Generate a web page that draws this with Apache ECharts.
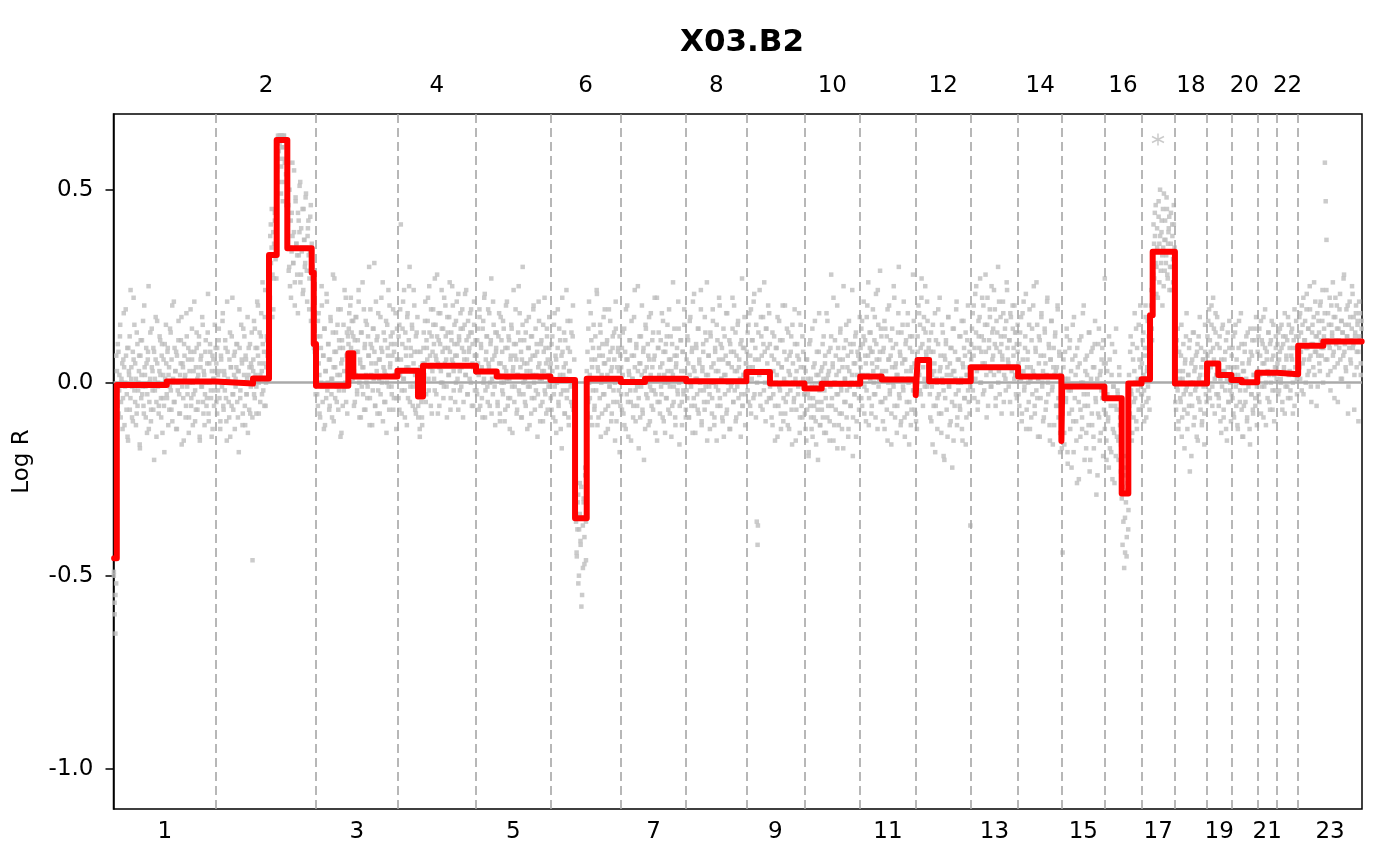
<!DOCTYPE html>
<html><head><meta charset="utf-8">
<script src="https://cdn.jsdelivr.net/npm/echarts@6/dist/echarts.min.js"></script>
<style>html,body{margin:0;padding:0;background:#fff}#c{width:1400px;height:866px}</style>
</head><body><div id="c"></div>
<script>
// ---------- chromosomes (hg19, Mb) ----------
const chromNames = ['1','2','3','4','5','6','7','8','9','10','11','12','13','14','15','16','17','18','19','20','21','22','23'];
const chromLengthsMb = [249.25,243.2,198.02,191.15,180.92,171.12,159.14,146.36,141.21,135.53,135.01,133.85,115.17,107.35,102.53,90.35,81.2,78.08,59.13,63.03,48.13,51.3,155.27];
const yTickValues = [-1.0,-0.5,0.0,0.5];
const yTickLabels = ['-1.0','-0.5','0.0','0.5'];

// ---------- probe log R values (x100), genomic order per chromosome, probe set A ----------
const chr1LogR = [-50,-57,-65,-52,3,-6,8,-2,12,-9,1,5,-4,18,-11,0,7,-3,-14,9,2,-7,24,4,-1,-10,6,15,-5,1,-8,10,-2,3,-16,7,-4,11,-1,-6,20,2,-9,5,-3,8,-12,0,13,-7,4,-2,9,-20,1,6,-5,16,-1,-8,3,11,-4,7,-13,2,-6,10,0,5,-4,9,2,-7,14,-2,6,-10,1,21,-5,3,8,-12,0,11,-3,-8,5,17,-1,4,-15,7,2,-6,12,-3,9,-9,0,19,-4,6,-11,3,8,-2,-7,13,1,-5,10,-14,4,7,-1,15,-8,2,-3,11,-6,5,23,-10,0,8,-4,3,-12,6,1,-2,9];
const chr2LogR = [5,-8,2,11,-4,-12,7,0,16,-6,3,-2,9,-10,21,1,-5,6,-14,4,12,-3,-7,2,8,-1,4,10,-9,3,19,-4,0,6,-11,14,2,-6,7,-3,1,-13,9,4,-8,5,13,-46,6,-3,14,2,-8,9,20,0,5,-5,12,3,26,-2,8,17,-6,4,11,1,15,24,38,31,45,28,19,36,42,33,27,55,63,60,64,58,49,64,61,52,64,57,63,46,60,41,29,50,35,22,44,38,31,55,26,47,36,33,18,42,39,52,28,34,45,24,37,30,48,35,21,40,33,27,43,16,36,30,25,12,8,-3];
const chr3LogR = [4,12,-6,18,2,-9,9,25,-1,7,-12,14,3,-4,21,0,10,-7,6,16,-3,1,28,-10,8,4,13,-5,2,19,-2,9,-14,5,11,-6,15,3,-1,22,7,-8,12,14,5,20,9,16,1,12,3,-5,17,8,-2,11,24,0,6,-9,13,4,-3,19,9,-7,2,15,-1,7,30,-4,10,5,-11,14,1,8,-6,21,3,12,-2,6,-8,17,9,0,26,4,-5,11,2,-13,15,7,-1,20,5,10,-3,13,-7,8,2,18,-4,6];
const chr4LogR = [6,-4,15,2,41,-8,10,21,1,-2,13,7,-11,18,4,25,-5,9,3,14,-1,24,8,-7,12,0,17,-6,3,-12,8,-3,-9,5,9,2,16,-5,11,6,22,-2,13,4,19,-8,8,15,1,27,7,-3,12,5,18,-6,10,3,24,0,14,-1,9,20,6,-9,13,2,17,8,-4,11,25,5,-2,15,7,0,21,10,-7,12,3,18,-1,9,14,-5,6,23,2,11,-3,16,8,1,13,19,-6,10,4,15,-2,7];
const chr5LogR = [7,-3,14,2,19,-6,10,4,-9,16,1,23,-2,8,12,-5,5,18,0,11,-8,6,21,3,-1,13,9,2,-6,12,5,-10,17,0,8,-3,14,4,-7,20,1,9,-4,11,-12,6,15,-1,3,24,-5,7,10,-8,2,13,-2,18,4,-9,6,30,-3,11,1,-6,16,5,-1,9,-11,3,12,-4,7,19,0,-7,14,2,8,-3,21,5,-10,10,1,-5,15,3,-2,9,-8,12,6,-1,17,4];
const chr6LogR = [5,-7,12,1,-3,18,-10,6,0,9,-5,14,2,-12,7,22,-2,4,-8,11,1,-4,16,-9,3,8,-1,13,-6,20,0,-14,-28,-36,-45,-31,-52,-38,-26,-42,-58,-35,-48,-30,-40,-22,-46,-33,8,-5,21,2,-9,11,4,-2,15,-7,6,1,24,-11,3,9,-4,13,0,-8,7,17,-3,5,-13,10,2,-6,19,-1,8,-10,4,12,-2,6,-15,14,1,-5,9,3,-18,7];
const chr7LogR = [-3,9,2,-8,14,0,-12,6,20,-5,3,11,-2,-15,7,1,-6,17,4,-10,9,-1,25,-4,5,-9,12,2,-7,8,-20,3,15,-3,0,10,-11,6,-1,18,-6,4,13,-2,7,-13,1,22,-5,9,2,-8,11,-3,5,16,-10,0,8,-4,12,3,-7,19,-1,6,-14,10,2,-5,14,-9,4,7,-2,21,0,-6,11,3,-11,8,-3,15,1,-7];
const chr8LogR = [6,-4,11,-9,2,17,-1,8,-13,4,23,-6,1,9,-3,14,-8,5,0,19,-11,3,10,-2,-7,13,2,26,-5,7,-1,-12,12,4,-4,16,0,-9,8,3,-15,11,-2,6,20,-6,1,9,-10,14,2,-3,7,-8,18,0,5,-12,10,-1,4,22,-5,8,-2,13,-9,3,15,-4,6,1,-14,11,-6,9,2,17,-3,5];
const chr9LogR = [8,-2,15,4,-6,19,1,11,-4,23,6,-9,-36,-42,13,2,-3,17,7,-7,10,26,0,14,-5,9,3,18,-1,-4,7,-11,3,12,-6,0,9,-14,5,16,-2,-8,4,11,-10,1,20,-5,6,-3,13,-12,2,8,-7,15,0,-4,10,-15,3,7,-1,18,-9,4,-6,12,1,-3];
const chr10LogR = [-8,3,-15,6,-3,-19,10,-6,1,-12,14,-4,-9,5,-1,-16,8,-7,2,18,-11,0,-5,4,-9,12,-2,7,-13,1,16,-6,3,-10,9,28,-4,5,-15,0,11,-7,2,20,-3,-11,6,13,-1,-8,4,-17,9,1,-5,15,-2,7,-12,3,10,-6,0,24,-9,5,-3,12,-14,2,8,-1,-7,6];
const chr11LogR = [9,-4,16,2,12,-8,11,5,-2,20,7,-11,13,1,8,-6,8,3,-3,17,-9,10,4,24,-1,6,29,14,2,-5,8,1,-12,14,3,-7,19,0,6,-3,11,-16,4,9,-1,22,-9,5,2,-6,13,30,-4,7,-10,1,15,-2,6,-14,10,3,-8,18,0,-5,12,-11,4,8,-2,16,-7,1];
const chr12LogR = [-10,-3,12,3,18,-2,9,22,6,-6,14,1,25,8,-1,16,4,11,-3,8,-10,2,15,-6,5,-18,11,0,-4,19,-8,3,7,-13,1,13,-2,-20,6,10,-7,4,17,-1,-11,9,2,-5,14,-15,3,8,-3,21,-9,0,6,-6,12,1,-12,5,16,-4,7,-16,2,11,-2,4,-8,-37];
const chr13LogR = [6,14,-2,20,9,1,25,4,-5,12,17,0,8,22,-3,11,5,28,2,15,-6,9,19,3,-1,13,7,24,10,-4,16,4,0,21,8,12,-8,6,18,2,14,-2,26,9,5,11,-5,17,3,20,7,1,13,-3,10,15];
const chr14LogR = [5,-6,13,1,-10,18,3,-2,9,23,-7,6,0,15,-12,4,11,-3,20,2,-8,8,26,-4,1,12,-14,7,17,-1,3,-9,14,5,-5,21,0,10,-11,6,16,-2,-16,9,2,13,-6,4,19,-9,7,-13,1,-17];
const chr15LogR = [-44,4,-13,8,-5,14,-18,1,-8,11,-2,-22,6,-10,17,-4,2,-15,9,-1,-25,5,-7,12,-12,0,20,-6,3,-17,7,-3,-11,13,-20,1,-8,9,-14,4,16,-5,-1,-24,10,-9,2,-13,6,-4,11,-7];
const chr16LogR = [27,-8,-15,3,-10,-22,6,-4,-18,10,-12,-1,-26,-6,14,-14,-3,-20,2,-9,-16,-30,-42,-24,-48,-35,-19,-45,-28,-38,2,-8,12,-3,-13,6,-5,18,0,-10,9,-2,15,-7,4,-1];
const chr17LogR = [5,-6,13,-2,9,20,-9,3,16,-4,8,1,15,24,11,32,41,27,38,46,30,35,22,43,36,50,29,39,33,45,25,37,42,31,48,28,36,40,24,34,44,30,38,26,41,35];
const chr18LogR = [4,-7,11,-2,-12,8,1,-5,15,-9,3,-3,-17,6,12,-1,-8,2,9,-23,0,5,-6,13,-11,3,-2,7,-14,10,-4,1,17,-7,4,-10,6,-1,-16,8,2,-5];
const chr19LogR = [12,3,19,-4,8,15,-1,22,6,-8,13,2,17,-3,-6,9,1,-13,14,3,-9,6,-2,11,-15,4,-5,16,0,-10];
const chr20LogR = [7,-4,12,-9,2,15,-6,4,-12,9,0,-2,18,-7,5,-14,3,10,-5,1,-10,13,-1,6,-16,8,-3,11,-8,2,14,-6,0,-11];
const chr21LogR = [8,-3,14,2,-8,11,5,17,-1,9,-11,6,3,13,-5,10,0,16,-7,7,2,-2,12,4];
const chr22LogR = [5,13,-2,8,1,15,-5,10,3,-8,12,6,-1,17,2,9,-4,7,14,0,11,-6,4,16,1,8];
const chr23LogR = [12,4,18,8,-2,15,22,6,11,0,19,9,14,3,25,7,-5,13,10,17,2,21,8,12,-1,16,5,20,11,7,24,9,14,57,47,37,6,18,10,22,3,15,12,26,8,-4,17,11,20,5,14,9,23,1,16,13,7,28,10,4,19,12,-8,15,21,6,11,25,9,17,2,13,20,8,16,-10,12,18,5,14];

// ---------- probe set B (x100) ----------
const chr1LogRb = [-49,-60,-55,7,-3,10,-8,2,15,-5,0,-12,6,4,-1,19,-7,9,-15,3,12,-4,1,-9,8,22,-2,5,-11,13,-6,0,7,-17,11,2,-3,16,-8,4,-1,9,-13,6,25,-5,1,-10,14,3,-7,8,-2,17,-14,5,0,-6,12,2,-9,10,-4,6,-18,1,15,-3,8,-11,4,-1,13,-7,20,0,-5,9,3,-12,7,-2,16,-8,2,11,-16,5,-4,10,1,-9,18,-1,6,-13,3,8,-6,14,0,-3,21,-10,4,9,-7,2,12,-15,6,-1,17,-5,3,-11,8,0,-4,13,-8,5,10,-2,-14,7,1,-6,15,3];
const chr2LogRb = [-5,9,-2,14,3,-10,6,-1,18,-7,2,11,-4,-15,8,0,-9,13,4,-6,22,-3,7,-12,1,10,-5,3,-18,9,-2,15,5,-8,0,12,-11,6,-3,17,2,-7,10,-1,4,-9,3,16,-4,9,-1,21,7,-8,13,2,18,-3,10,5,-6,24,0,12,7,19,30,22,41,35,17,39,27,44,32,36,59,64,52,62,64,56,61,47,64,58,63,54,62,38,46,30,25,42,34,57,31,39,20,48,36,28,44,33,51,26,40,35,23,45,37,31,49,29,38,42,19,34,46,32,27,20,9,14,2];
const chr3LogRb = [9,-3,16,5,-8,12,0,20,-5,7,14,-11,3,23,-2,10,6,-6,17,1,-9,13,4,27,-4,8,-1,15,-7,11,2,19,-13,6,9,-2,24,0,-5,13,3,10,18,4,22,13,7,16,-6,11,2,17,-3,8,21,-9,5,13,-1,26,4,-7,10,16,0,-4,12,7,-11,19,2,9,-2,14,31,-6,5,11,-8,18,1,6,-3,22,8,-10,13,3,-5,16,0,9,24,-7,4,12,-1,7,19,-4,10,2,-12,14];
const chr4LogRb = [3,12,-7,19,6,-2,14,1,24,-9,9,4,17,-4,11,30,-1,7,15,-6,5,20,2,-8,13,8,-9,1,-14,4,-5,-11,2,13,5,21,-3,9,16,1,25,7,-6,12,3,19,10,-2,15,6,28,-8,11,4,18,0,14,8,-4,22,5,12,-1,17,9,2,26,-7,13,6,20,3,10,-5,16,7,1,23,11,-2,14,4,19,-9,8,15,2,24,6,-3,12,9,18,0,13,5,-6,21,7,11];
const chr5LogRb = [-2,11,5,-7,17,3,9,-4,14,0,22,-9,6,12,-1,19,4,-6,10,27,1,-3,15,7,-11,8,13,-5,2,18,-8,5,11,-2,16,0,-10,9,3,21,-6,12,1,-4,7,14,-13,4,10,-1,19,6,-7,2,25,-3,11,8,-9,15,0,5,-5,13,3,-12,9,17,-1,6,-8,12,2,20,-4,7,-2,10,-14,4,16,1,-6,11,3,-10,8,22,-3,5,14,-7,2,9,-1];
const chr6LogRb = [-4,10,3,-9,15,-1,7,-13,4,19,-6,1,11,-3,-17,8,2,13,-8,5,24,-2,9,-11,3,16,-5,0,12,-7,6,-32,-25,-44,-38,-29,-50,-34,-41,-27,-55,-37,-31,-47,-24,-36,3,-8,14,0,-4,18,6,-11,9,1,-6,12,-2,23,4,-9,7,15,-14,2,10,-3,5,19,-7,1,11,-12,6,-1,16,3,-8,9,-5,13,0,21,-10,4,8,-2,12,-6];
const chr7LogRb = [4,-7,13,0,-11,8,19,-3,6,-14,2,11,-5,16,1,-9,7,24,-2,10,-6,3,-17,12,5,-1,20,-8,9,0,-12,14,4,-4,7,17,-10,2,-2,11,-7,6,22,-3,1,-15,9,13,-5,4,-1,18,-9,8,2,-13,10,-4,15,0,6,-8,12,3,-6,26,-1,7,-11,5,9,-3,14,-16,1,11,-5,8,-2,19,3,-9];
const chr8LogRb = [-2,12,5,-9,16,0,-6,9,21,-4,3,-13,10,1,-7,14,6,-2,24,-10,4,8,-5,17,-1,11,-15,2,7,-3,13,0,-8,19,5,-11,9,-1,15,-6,3,22,-4,10,1,-9,6,-14,12,2,18,-7,5,-2,11,-12,8,0,14,-5,20,3,-10,7,-1,16,4,-8,10,-3,27,-6,2,9,-11,5];
const chr9LogRb = [2,13,-5,18,7,-8,11,4,21,-3,9,15,0,-37,6,24,-6,12,3,17,-2,8,-10,14,5,20,-4,10,1,-9,13,-3,6,-15,9,2,17,-6,-1,11,-12,4,20,-4,8,-8,0,14,-11,3,7,-2,12,-16,5,-5,19,1,-7,10,-3,6,-13,15,0,-9,8,4];
const chr10LogRb = [-3,-12,6,-7,1,-18,-4,11,-9,-1,-14,4,-6,16,-10,2,-5,-20,8,-2,-11,3,-7,10,1,-13,5,-4,18,-9,2,8,-15,-1,12,-6,4,22,-11,0,7,-3,-17,9,3,-8,14,-2,-12,6,25,-5,1,11,-9,4,-14,16,-1,-6,8,2,-19,10,-3,5,13,-10,0,7,-4,17];
const chr11LogRb = [4,14,-6,10,21,-1,7,-10,17,2,26,-4,9,13,-8,5,19,0,11,-3,23,6,-12,15,1,8,-5,12,3,-10,9,16,-4,1,12,-15,6,20,-2,7,-8,14,0,25,-6,4,10,-13,2,18,-3,8,-11,13,5,-1,21,-9,6,11,-5,15,1,-16,9,3,-7,12,28,-2,5,-8];
const chr12LogRb = [2,-12,8,20,2,15,-3,27,10,4,17,-1,13,7,21,0,9,6,-9,13,-1,-16,8,3,18,-6,1,-12,10,-3,22,4,-8,15,0,-19,7,-4,11,2,-14,17,-1,5,-10,9,-22,3,14,-6,1,19,-11,6,-2,12,-7,0,16,-15,4,9,-4,13,-9,2,20,-5,8,-1];
const chr13LogRb = [10,1,18,7,-4,23,13,3,-7,16,9,27,0,12,5,20,-2,15,8,-9,22,4,11,17,-1,25,6,14,2,19,-6,9,13,30,3,-3,17,10,7,21,-5,12,1,16,24,6,-1,11,18,4,-8,14,9,20,2,13,-4,8];
const chr14LogRb = [-3,10,2,17,-8,6,21,-1,12,-12,4,8,-5,19,1,-9,14,3,25,-6,9,-2,15,-14,5,11,-4,18,0,-10,7,13,-7,2,22,-3,9,-15,6,16,-1,4,-11,12,3,-6,20,-4,8,-18,2,-14];
const chr15LogRb = [-8,6,-16,1,-4,12,-21,-2,9,-12,3,-7,15,-18,-1,7,-10,-26,4,-5,11,-14,0,-9,18,-3,-20,6,-13,2,-6,13,-23,-1,8,-11,4,-17,10,-4,-29,1,-8,14,-15,3,-2,9,-19,5];
const chr16LogRb = [-12,5,-20,-3,-9,12,-17,-6,2,-25,-1,-13,8,-19,-7,-2,-15,4,-11,-23,-5,-27,-36,-22,-44,-31,-40,-26,-33,-6,8,-2,-15,10,-9,3,-4,14,-12,1,-7,6,20,-3];
const chr17LogRb = [-3,11,2,-10,7,17,-5,4,-1,12,-7,9,20,14,26,28,36,44,31,23,40,34,47,26,38,31,42,20,35,49,29,37,33,45,27,39,43,30,36,24,41,32,46,34];
const chr18LogRb = [-5,9,-1,14,-10,3,-4,7,-14,1,10,-7,5,-2,18,-12,2,-6,11,-3,-19,6,0,13,-9,4,-1,8,-15,12,-5,2,9,-11,0,6,-8,15,-3,3];
const chr19LogRb = [7,16,-2,11,4,20,-6,9,14,1,18,-3,10,5,-4,12,-10,6,-1,15,-7,3,8,-12,1,13,-5,9,-2,4];
const chr20LogRb = [-3,9,-8,4,13,-1,6,-11,2,16,-5,1,10,-14,3,-6,8,-2,12,-9,0,5,-12,14,-3,7,-7,2,11,-4,17,-1];
const chr21LogRb = [3,12,-5,7,16,-1,10,-9,5,19,0,8,-4,13,2,-7,11,6,-2,15,-10,4,9,1];
const chr22LogRb = [10,-3,6,14,0,9,-7,12,4,18,-1,7,11,-4,15,3,-2,13,6,-8,9,19,2,12,-3,7];
const chr23LogRb = [8,17,1,13,20,5,-3,11,16,9,23,2,14,6,19,-1,10,15,4,26,8,12,-6,18,7,13,3,21,9,16,0,12,18,6,24,11,2,15,9,-2,20,13,7,17,4,22,10,14,-5,11,19,6,16,1,13,27,8,15,3,12,20,-1,9,17,5,14,23,10,-7,12,18,4,15,8,21,11,2,16];

// ---------- segmentation (chromosome, start Mb, end Mb within chromosome, mean log R) ----------
const segChrom   = [1,1,1, 2,2,2,2,2,2,2, 3,3,3, 4,4,4, 5,5, 6,6,6, 7,7, 8, 9,9, 10,10, 11,11, 12,12,12, 13, 14,14, 15, 16,16,16, 17,17,17, 18, 19,19, 20,20, 21, 22, 23,23];
const segStartMb = [1.5,8,129.4, 0,90.05,128.95,147.65,173.45,232.75,237.75, 0,78.6,90.8, 0,50,62.2, 0,50.3, 0,59.9,88.3, 0,58.9, 0, 0,57.3, 0,41.9, 0,52.3, 0,4.6,32.6, 0, 0,105.3, 0, 0,42.1,58.2, 0,20.6,27.1, 0, 0,27.4, 0,25.1, 0, 0, 0,61.2];
const segEndMb   = [8,129.4,249.25, 90.05,128.95,147.65,173.45,232.75,237.75,243.2, 78.6,90.8,198.02, 50,62.2,191.15, 50.3,180.92, 59.9,88.3,171.12, 58.9,159.14, 146.36, 57.3,141.21, 41.9,135.53, 52.3,135.01, 4.6,32.6,133.85, 115.17, 105.3,107.35, 102.53, 42.1,58.2,90.35, 20.6,27.1,81.2, 78.08, 27.4,59.13, 25.1,63.03, 48.13, 51.3, 61.2,154.5];
const segMean    = [-0.455,-0.006,0.003, -0.002,0.011,0.331,0.629,0.348,0.285,0.10, -0.008,0.076,0.016, 0.031,-0.036,0.044, 0.029,0.016, 0.007,-0.351,0.010, 0.002,0.010, 0.004, 0.028,-0.002, -0.015,-0.003, 0.016,0.008, -0.032,0.059,0.004, 0.040, 0.016,-0.151, -0.010, -0.040,-0.287,-0.002, 0.009,0.175,0.339, -0.002, 0.050,0.020, 0.007,0.001, 0.026, 0.022, 0.096,0.107];

// point above the plotted range (drawn as asterisk at the clip value)
const clippedChrom = [17];
const clippedPosMb = [40.0];
const clippedValue = [0.63];

// ---------- derived ----------
const chromStarts = [];
let acc = 0;
chromLengthsMb.forEach(l => { chromStarts.push(acc); acc += l; });
const genomeEnd = acc;
const chromCenters = chromStarts.map((s, i) => s + chromLengthsMb[i] / 2);
const oddCenters = chromCenters.filter((c, i) => i % 2 === 0);
const evenCenters = chromCenters.filter((c, i) => i % 2 === 1);
const boundaries = chromStarts.slice(1);

const probeSetA = [chr1LogR,chr2LogR,chr3LogR,chr4LogR,chr5LogR,chr6LogR,chr7LogR,chr8LogR,chr9LogR,chr10LogR,chr11LogR,chr12LogR,chr13LogR,chr14LogR,chr15LogR,chr16LogR,chr17LogR,chr18LogR,chr19LogR,chr20LogR,chr21LogR,chr22LogR,chr23LogR];
const probeSetB = [chr1LogRb,chr2LogRb,chr3LogRb,chr4LogRb,chr5LogRb,chr6LogRb,chr7LogRb,chr8LogRb,chr9LogRb,chr10LogRb,chr11LogRb,chr12LogRb,chr13LogRb,chr14LogRb,chr15LogRb,chr16LogRb,chr17LogRb,chr18LogRb,chr19LogRb,chr20LogRb,chr21LogRb,chr22LogRb,chr23LogRb];
const points = [];
[probeSetA, probeSetB].forEach(set => set.forEach((vals, c) => {
  const n = vals.length;
  vals.forEach((v, i) => points.push([chromStarts[c] + (i + 0.5) * chromLengthsMb[c] / n, v / 100]));
}));
const segLine = [];
segChrom.forEach((ch, k) => {
  const s = chromStarts[ch - 1];
  segLine.push([s + segStartMb[k], segMean[k]]);
  segLine.push([s + segEndMb[k], segMean[k]]);
});
const clipped = clippedChrom.map((ch, k) => [chromStarts[ch - 1] + clippedPosMb[k], clippedValue[k]]);

function nearestName(v) {
  let best = 0, bd = Infinity;
  chromCenters.forEach((c, i) => { const d = Math.abs(c - v); if (d < bd) { bd = d; best = i; } });
  return chromNames[best];
}

const FONT = 'DejaVu Sans';
const lblStyle = { fontFamily: FONT, fontSize: 23, color: '#000' };

const chart = echarts.init(document.getElementById('c'), null, { renderer: 'canvas' });
chart.setOption({
  animation: false,
  backgroundColor: '#fff',
  title: { text: 'X03.B2', left: 675, top: 22, textStyle: { fontFamily: FONT, fontWeight: 'bold', fontSize: 31, color: '#000' } },
  grid: { left: 113.5, right: 38, top: 114, bottom: 57, show: true, borderColor: '#000', borderWidth: 1.5, backgroundColor: 'transparent' },
  xAxis: [
    { type: 'value', min: 0, max: genomeEnd, position: 'bottom',
      axisLine: { show: false }, axisTick: { show: false }, splitLine: { show: false },
      axisLabel: Object.assign({ customValues: oddCenters, formatter: v => nearestName(v), margin: 12 }, lblStyle) },
    { type: 'value', min: 0, max: genomeEnd, position: 'top',
      axisLine: { show: false }, axisTick: { show: false }, splitLine: { show: false },
      axisLabel: Object.assign({ customValues: evenCenters, formatter: v => nearestName(v), margin: 16 }, lblStyle) }
  ],
  yAxis: {
    type: 'value', min: -1.1044, max: 0.6961,
    axisLine: { show: true, lineStyle: { color: '#000', width: 1.5 } },
    axisTick: { show: true, customValues: yTickValues, length: 8, lineStyle: { color: '#000', width: 1.5 } },
    axisLabel: Object.assign({ customValues: yTickValues, margin: 20,
      formatter: v => yTickLabels[yTickValues.findIndex(t => Math.abs(t - v) < 1e-9)] }, lblStyle),
    splitLine: { show: false },
    name: 'Log R', nameLocation: 'middle', nameGap: 80,
    nameTextStyle: { fontFamily: FONT, fontSize: 23, color: '#000' }
  },
  series: [
    { type: 'line', data: [], z: 1, silent: true,
      markLine: { z: 1, silent: true, symbol: ['none', 'none'], label: { show: false }, animation: false,
        data: boundaries.map(b => ({ xAxis: b, lineStyle: { type: [9, 5], color: '#a6a6a6', width: 1.6 } }))
          .concat([{ yAxis: 0, lineStyle: { type: 'solid', color: '#aaaaaa', width: 2.5 } }]) } },
    { type: 'scatter', data: points, symbol: 'rect', symbolSize: 4.5, z: 2, silent: true,
      itemStyle: { color: '#bebebe' } },
    { type: 'line', data: segLine, z: 3, silent: true, showSymbol: false, symbol: 'none',
      lineStyle: { color: '#ff0000', width: 6, cap: 'round', join: 'round' } },
    { type: 'scatter', data: clipped, z: 4, silent: true,
      symbol: 'path://M0,-10L0,10M-8.66,-5L8.66,5M-8.66,5L8.66,-5', symbolSize: 12,
      itemStyle: { color: 'none', borderColor: '#bebebe', borderWidth: 1.5 } }
  ]
});
</script>
</body></html>
